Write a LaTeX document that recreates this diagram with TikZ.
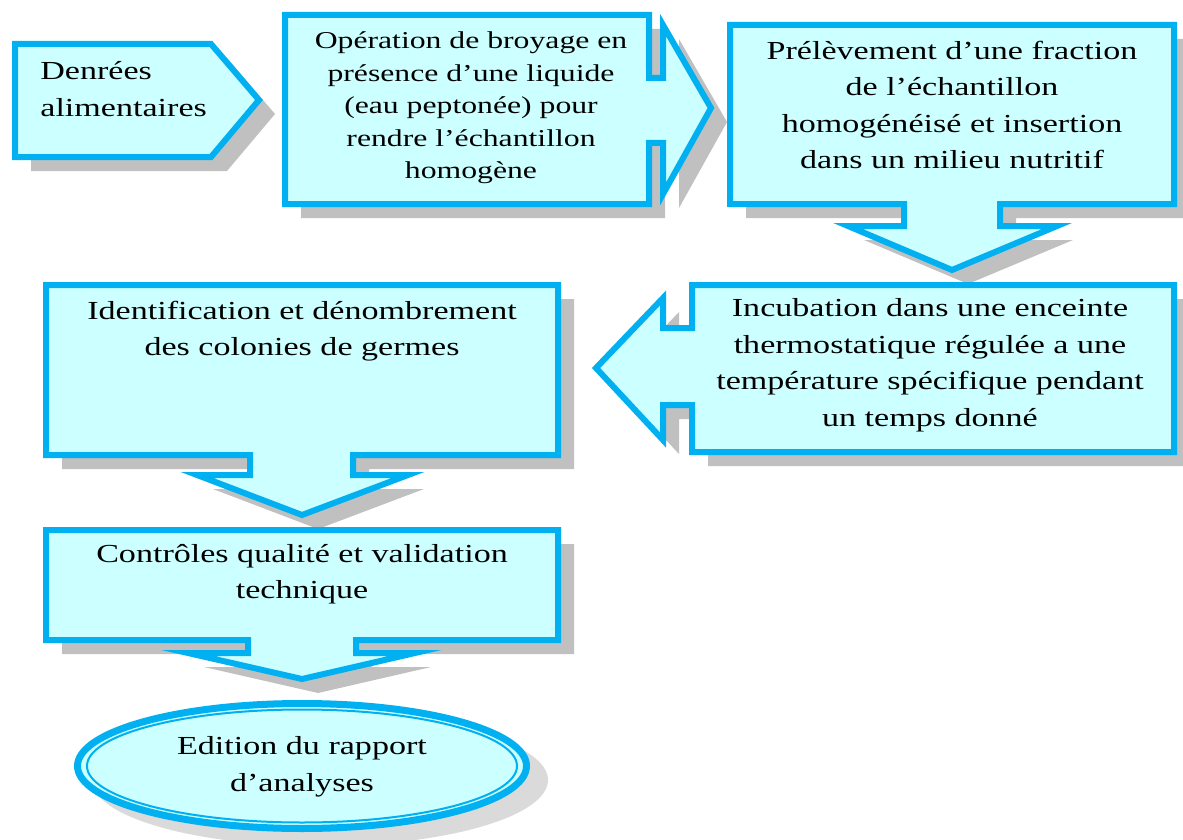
\documentclass[tikz,border=0pt]{standalone}
\usepackage{fontspec}
\setmainfont{Liberation Serif}[FakeStretch=1.31]
\definecolor{bordblue}{HTML}{00B0F0}
\definecolor{boxfill}{HTML}{CCFFFF}
\definecolor{shadgray}{HTML}{C0C0C0}
\definecolor{shadlight}{HTML}{DADADA}
\tikzset{
  boxshape/.style={draw=bordblue, fill=boxfill, line width=3pt, line join=miter},
  shadowshape/.style={fill=shadgray, draw=none},
  txt/.style={inner sep=0pt, align=center, font=\fontsize{13pt}{18.25pt}\selectfont},
  txtsmall/.style={inner sep=0pt, align=center, font=\fontsize{12.1pt}{16.25pt}\selectfont},
}
\def\shapeA{(15,44) -- (211,44) -- (259,100) -- (211,157) -- (15,157) -- cycle}
\def\shapeB{(285,15) -- (649,15) -- (649,78) -- (663,78) -- (663,25) -- (711,108) -- (663,194) -- (663,143) -- (649,143) -- (649,204) -- (285,204) -- cycle}
\def\shapeC{(730,25) -- (1174,25) -- (1174,204) -- (1000,204) -- (1000,226) -- (1057,226) -- (952,270) -- (848,226) -- (904,226) -- (904,204) -- (730,204) -- cycle}
\def\shapeD{(692,285) -- (1174,285) -- (1174,452) -- (692,452) -- (692,405) -- (663,405) -- (663,440) -- (596,368) -- (663,298) -- (663,328) -- (692,328) -- cycle}
\def\shapeE{(46,285) -- (558,285) -- (558,455) -- (353,455) -- (353,475) -- (408,475) -- (302,515) -- (197,475) -- (250,475) -- (250,455) -- (46,455) -- cycle}
\def\shapeF{(46,530) -- (558,530) -- (558,640) -- (356,640) -- (356,653) -- (415,653) -- (302,679) -- (188,653) -- (248,653) -- (248,640) -- (46,640) -- cycle}
\begin{document}
\begin{tikzpicture}[x=0.5pt, y=-0.5pt]
\useasboundingbox (0,0) rectangle (1183,840);
% shadows
\begin{scope}[shift={(16,14)}]
  \fill[shadowshape] \shapeA;
  \fill[shadowshape] \shapeB;
  \fill[shadowshape] \shapeC;
  \fill[shadowshape] \shapeD;
  \fill[shadowshape] \shapeE;
  \fill[shadowshape] \shapeF;
\end{scope}
\fill[shadlight] (320,780) ellipse [x radius=228, y radius=66];
% shapes
\draw[boxshape] \shapeA;
\draw[boxshape] \shapeB;
\draw[boxshape] \shapeC;
\draw[boxshape] \shapeD;
\draw[boxshape] \shapeE;
\draw[boxshape] \shapeF;
\draw[bordblue, fill=boxfill, line width=3.5pt] (302,766) ellipse [x radius=224.5, y radius=62.5];
\draw[bordblue, line width=1pt] (302,766) ellipse [x radius=215, y radius=56.5];
% texts
\node[txt, align=left, anchor=west] (t1) at (40,89) {Denrées\\alimentaires};
\node[txtsmall] (t2) at (471,108) {Opération de broyage en\\présence d’une liquide\\(eau peptonée) pour\\rendre l’échantillon\\homogène};
\node[txt] (t3) at (952,105) {Prélèvement d’une fraction\\de l’échantillon\\homogénéisé et insertion\\dans un milieu nutritif};
\node[txt] (t4) at (930,365) {Incubation dans une enceinte\\thermostatique régulée a une\\température spécifique pendant\\un temps donné};
\node[txt] (t5) at (302,331) {Identification et dénombrement\\des colonies de germes};
\node[txt] (t6) at (302,574) {Contrôles qualité et validation\\technique};
\node[txt] (t7) at (302,767) {Edition du rapport\\d’analyses};
\end{tikzpicture}
\end{document}
